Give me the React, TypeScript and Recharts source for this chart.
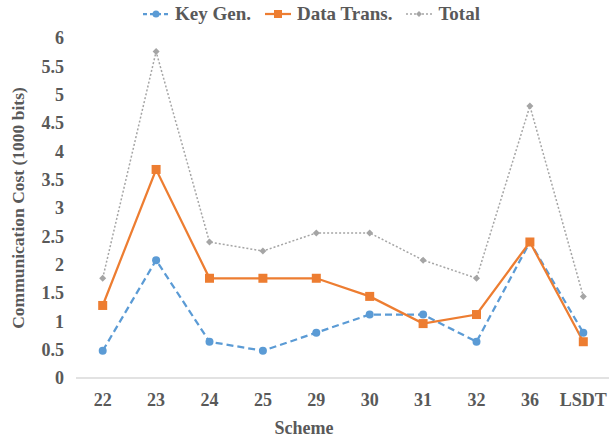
import React from 'react';
import { LineChart, Line, XAxis, YAxis, Legend, Label } from 'recharts';

const schemes = ['22', '23', '24', '25', '29', '30', '31', '32', '36', 'LSDT'];
const keyGen = [0.48, 2.08, 0.64, 0.48, 0.8, 1.12, 1.12, 0.64, 2.4, 0.8];
const dataTrans = [1.28, 3.68, 1.76, 1.76, 1.76, 1.44, 0.96, 1.12, 2.4, 0.64];
const total = [1.76, 5.76, 2.4, 2.24, 2.56, 2.56, 2.08, 1.76, 4.8, 1.44];
const yTicks = [0, 0.5, 1, 1.5, 2, 2.5, 3, 3.5, 4, 4.5, 5, 5.5, 6];

const BLUE = '#5b9bd5';
const ORANGE = '#ed7d31';
const GRAY = '#a5a5a5';
const TEXT = '#595959';
const FONT = '"Liberation Serif", "Times New Roman", serif';

const data = schemes.map((s, i) => ({
  scheme: s,
  keyGen: keyGen[i],
  dataTrans: dataTrans[i],
  total: total[i],
}));

const SquareDot = (props: any) => {
  const { cx, cy } = props;
  if (cx == null || cy == null) return null;
  return <rect x={cx - 4.5} y={cy - 4.5} width={9} height={9} fill={ORANGE} />;
};

const DiamondDot = (props: any) => {
  const { cx, cy } = props;
  if (cx == null || cy == null) return null;
  const r = 3.5;
  return <polygon points={`${cx},${cy - r} ${cx + r},${cy} ${cx},${cy + r} ${cx - r},${cy}`} fill={GRAY} />;
};

const legendItems = [
  { label: 'Key Gen.', color: BLUE, dash: '4 3', width: 2.25, marker: 'circle' },
  { label: 'Data Trans.', color: ORANGE, dash: undefined, width: 2.25, marker: 'square' },
  { label: 'Total', color: GRAY, dash: '2 2', width: 1.5, marker: 'diamond' },
];

const renderLegend = () => (
  <div style={{ display: 'flex', justifyContent: 'center', gap: 12, fontFamily: FONT, fontWeight: 'bold', fontSize: 19, color: TEXT, paddingLeft: 12 }}>
    {legendItems.map(it => (
      <div key={it.label} style={{ display: 'flex', alignItems: 'center' }}>
        <svg width={30} height={12} style={{ marginRight: 4 }}>
          <line x1={2} y1={6} x2={28} y2={6} stroke={it.color} strokeWidth={it.width} strokeDasharray={it.dash} />
          {it.marker === 'circle' && <circle cx={15} cy={6} r={3.5} fill={it.color} />}
          {it.marker === 'square' && <rect x={11} y={2} width={8} height={8} fill={it.color} />}
          {it.marker === 'diamond' && <polygon points="15,3 18,6 15,9 12,6" fill={it.color} />}
        </svg>
        <span>{it.label}</span>
      </div>
    ))}
  </div>
);

export default function App() {
  return (
    <div style={{ position: 'absolute', left: 0, top: 0, width: 609, height: 437, overflow: 'hidden', background: '#fff' }}>
      <LineChart width={614} height={437} data={data} margin={{ top: 38, right: 4, left: 0, bottom: 0 }}>
        <XAxis
          dataKey="scheme"
          scale="band"
          interval={0}
          height={59}
          axisLine={{ stroke: '#d9d9d9', strokeWidth: 1.5 }}
          tickLine={false}
          tickMargin={9}
          tick={{ fill: TEXT, fontSize: 18, fontWeight: 'bold', fontFamily: FONT }}
        >
          <Label value="Scheme" position="center" dx={-39} dy={20} fill={TEXT} fontSize={18} fontWeight="bold" fontFamily={FONT} />
        </XAxis>
        <YAxis
          width={76}
          domain={[0, 6]}
          ticks={yTicks}
          interval={0}
          axisLine={false}
          tickLine={false}
          tickMargin={6}
          tick={{ fill: TEXT, fontSize: 18, fontWeight: 'bold', fontFamily: FONT }}
        >
          <Label value="Communication Cost (1000 bits)" angle={-90} position="center" dx={-20} fill={TEXT} fontSize={17.5} fontWeight="bold" fontFamily={FONT} />
        </YAxis>
        <Legend layout="horizontal" verticalAlign="middle" align="center" content={renderLegend} wrapperStyle={{ top: 3, left: 0, width: 609 }} />
        <Line dataKey="total" stroke={GRAY} strokeWidth={1.5} strokeDasharray="2 2" dot={<DiamondDot />} isAnimationActive={false} />
        <Line dataKey="keyGen" stroke={BLUE} strokeWidth={2.25} strokeDasharray="7 4" dot={{ r: 4, fill: BLUE, stroke: BLUE, strokeWidth: 0 }} isAnimationActive={false} />
        <Line dataKey="dataTrans" stroke={ORANGE} strokeWidth={2.25} dot={<SquareDot />} isAnimationActive={false} />
      </LineChart>
    </div>
  );
}
